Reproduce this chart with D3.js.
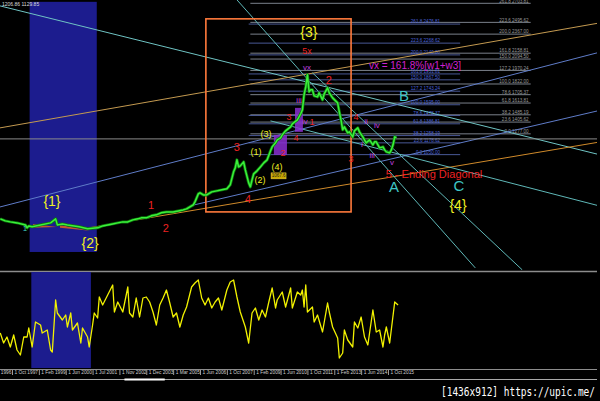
<!DOCTYPE html>
<html><head><meta charset="utf-8">
<script src="https://cdn.jsdelivr.net/npm/d3@7/dist/d3.min.js"></script>
<style>html,body{margin:0;padding:0;background:#000;overflow:hidden}svg{display:block}</style>
</head><body>
<svg id="chart" width="600" height="401"></svg>
<script>
// ---------------- data (monthly bars, bar 0 = 1 Jun 1996) ----------------
const axisLabels = ["1 Jun 1996","1 Oct 1997","1 Feb 1999","1 Jun 2000","1 Jul 2001","1 Nov 2002","1 Dec 2003","1 Mar 2005","1 Jun 2006","1 Oct 2007","1 Feb 2009","1 Jun 2010","1 Oct 2011","1 Feb 2013","1 Jun 2014","1 Oct 2015"];
const barsPerLabel = 16;

const priceSeries = [[9,348],[12,326],[15,315],[19,304],[24,282],[25,250],[26,271],[28,261],[33,282],[39,304],[42,348],[43,282],[46,293],[49,282],[53,271],[56,261],[61,239],[67,250],[70,271],[73,282],[76,293],[79,304],[82,315],[85,315],[88,337],[91,348],[93,359],[96,359],[99,381],[102,392],[105,414],[108,424],[112,424],[115,435],[118,446],[120,457],[122,479],[124,501],[125,534],[127,621],[128,632],[130,610],[132,610],[135,643],[138,654],[141,665],[144,676],[146,720],[148,862],[149,905],[150,993],[151,916],[152,927],[154,971],[155,884],[157,741],[158,698],[159,774],[160,840],[162,873],[164,916],[166,960],[168,993],[170,1091],[171,1135],[173,1179],[174,1211],[176,1233],[177,1266],[179,1310],[182,1354],[183,1386],[186,1430],[188,1496],[189,1539],[190,1703],[191,1791],[192,1922],[193,1736],[194,1758],[195,1758],[196,1692],[198,1681],[199,1725],[201,1649],[202,1714],[204,1780],[205,1725],[207,1670],[210,1616],[211,1517],[212,1430],[213,1321],[214,1354],[216,1288],[217,1299],[219,1244],[220,1310],[222,1343],[223,1299],[225,1244],[226,1211],[227,1179],[229,1211],[231,1157],[232,1190],[233,1190],[235,1124],[237,1135],[238,1102],[239,1080],[241,1069],[242,1102],[243,1157],[244,1244],[245,1233]];

const oscSeries = [[9,35],[11,25],[13,31],[15,21],[17,33],[19,18],[21,13],[23,31],[25,31],[26,40],[28,21],[30,46],[33,43],[34,35],[37,38],[39,18],[40,16],[42,68],[43,55],[46,48],[48,53],[49,41],[51,55],[52,38],[55,45],[57,25],[58,40],[61,31],[62,21],[64,43],[65,55],[67,50],[68,71],[70,63],[73,73],[76,83],[77,56],[79,66],[82,56],[85,81],[86,55],[88,51],[90,70],[92,51],[94,70],[96,71],[98,66],[100,56],[102,43],[104,63],[106,70],[108,78],[110,65],[112,51],[114,55],[116,41],[118,53],[120,61],[123,81],[125,85],[127,88],[129,70],[131,63],[133,70],[135,60],[137,66],[139,70],[141,58],[144,78],[146,86],[148,88],[150,71],[152,56],[155,41],[157,25],[159,55],[161,60],[163,48],[165,58],[167,51],[169,66],[171,80],[173,60],[174,68],[177,76],[179,61],[182,80],[183,60],[186,76],[188,73],[189,78],[190,61],[191,83],[192,56],[195,61],[196,46],[198,53],[201,36],[204,65],[205,56],[207,41],[210,30],[211,10],[213,15],[214,38],[216,28],[219,21],[220,46],[222,40],[224,51],[226,31],[228,23],[231,58],[233,36],[235,38],[237,21],[238,33],[239,41],[241,25],[244,66],[246,63]];

const fibRatios = [0,23.6,38.2,61.8,78.6,100,127.2,150,161.8,200,223.6,261.8];
const fibProjBase = 1050, fibProjSpan = 545, fibProjBars = [157,283];
const fibRetrBase = 1277, fibRetrSpan = 545, fibRetrBars = [158,325];

const shadeMainBars = [26.5,66.5], shadeMainPrices = [-14,2720];
const shadeOscBars = [27.5,63];
const waveBoxBars = [131.5,218], waveBoxPrices = [424,2534];
const highlightBlocks = [{bars:[172,179.8],prices:[1047,1266]},{bars:[184.6,189.3],prices:[1299,1561]}];
const wedges = [[[28.5,293],[42.8,260],[28.5,250]],[[44.6,282],[62.5,217],[44.6,250]]];

const trendLines = [
  {id:"teal",   pts:[[0,2716],[370,1031]]},
  {id:"tan",    pts:[[0,1314],[370,2502]]},
  {id:"orange", pts:[[62,250],[370,1200]]},
  {id:"blueHi", pts:[[0,436],[370,2188]]},
  {id:"blueLo", pts:[[122,490],[370,1550]]},
  {id:"grid",   pts:[[0,1222],[370,1222]]},
  {id:"steepA", pts:[[150,2742],[292,-188]]},
  {id:"steepB", pts:[[195,1944],[320,-210]]},
  {id:"tealMid",pts:[[170,1419],[370,470]]}
];

const waveLabels = [
  {t:"{1}",b:39.8,p:545,k:"cycle"},{t:"{2}",b:62.5,p:86,k:"cycle"},{t:"{3}",b:192.9,p:2392,k:"cycle"},{t:"{4}",b:281.7,p:501,k:"cycle"},
  {t:"1",b:98.8,p:501,k:"red"},{t:"2",b:107.7,p:250,k:"red"},{t:"3",b:150,p:1135,k:"red"},{t:"4",b:156.6,p:566,k:"red"},
  {t:"2",b:177.4,p:1069,k:"redS"},{t:"3",b:181,p:1463,k:"redS"},{t:"4",b:185.2,p:1233,k:"redS"},{t:"1",b:194.7,p:1408,k:"redS"},
  {t:"5x",b:191.7,p:2184,k:"redS"},{t:"2",b:204.8,p:1867,k:"red"},{t:"4",b:220.9,p:1463,k:"redS"},{t:"3",b:217.9,p:1004,k:"redS"},
  {t:"(1)",b:161.4,p:1080,k:"primary"},{t:"(2)",b:163.7,p:774,k:"primary"},{t:"(3)",b:167.3,p:1277,k:"primary"},{t:"(4)",b:173.9,p:916,k:"primary"},
  {t:"iv",b:190.5,p:1408,k:"minor"},{t:"vx",b:191.7,p:1998,k:"minor"},{t:"iii",b:187,p:1638,k:"minor"},
  {t:"ii",b:226.9,p:1408,k:"minor"},{t:"iv",b:233.4,p:1364,k:"minor"},{t:"i",b:224.5,p:1157,k:"minor"},{t:"iii",b:230.5,p:1036,k:"minor"},{t:"v",b:242.4,p:960,k:"minor"},
  {t:"A",b:243.6,p:698,k:"abc"},{t:"B",b:249.5,p:1692,k:"abc"},{t:"C",b:282.3,p:710,k:"abc"},
  {t:"1",b:23.7,p:239,k:"tiny"}
];
const notes = [
  {t:"vx = 161.8%[w1+w3]",b:256.1,p:2020,k:"noteMag"},
  {t:"5 - Ending Diagonal",b:267.4,p:840,k:"noteRed"}
];
const priceTag = {t:"1067.6",b:174.8,p:818};
const headerText = "1206.86 1129.85";
const watermark = "[1436x912] https://upic.me/";

// ---------------- styles ----------------
const lineStyle = {
  teal:{c:"#6fc4c4",w:1}, tan:{c:"#c49a50",w:1}, orange:{c:"#d08a2a",w:1},
  blueHi:{c:"#5f7cc8",w:1}, blueLo:{c:"#5f7cc8",w:1}, grid:{c:"#8a8a8a",w:1},
  steepA:{c:"#5fb8b8",w:1}, steepB:{c:"#5fb8b8",w:1}, tealMid:{c:"#5fb8b8",w:1}
};
const labelStyle = {
  cycle:{c:"#f0f020",s:14}, primary:{c:"#f0f020",s:9}, red:{c:"#ee2222",s:11}, redS:{c:"#ee2222",s:9},
  minor:{c:"#c040e0",s:8}, abc:{c:"#3fc6c6",s:15}, tiny:{c:"#40d0c0",s:8},
  noteMag:{c:"#d020d0",s:10}, noteRed:{c:"#ee2222",s:11}
};

// ---------------- scales ----------------
const W = 600, H = 401;
const x = d3.scaleLinear().domain([16,240]).range([12,388]);
const y = d3.scaleLinear().domain([0,2740]).range([250.7,0]);
const yo = d3.scaleLinear().domain([0,96]).range([368,272]);

const svg = d3.select("#chart");
svg.append("rect").attr("width",W).attr("height",H).attr("fill","#000");
const defs = svg.append("defs");
defs.append("clipPath").attr("id","clipMain").append("rect").attr("x",0).attr("y",0).attr("width",597).attr("height",270);
defs.append("clipPath").attr("id","clipOsc").append("rect").attr("x",0).attr("y",272).attr("width",597).attr("height",97);

const font = "'Liberation Sans', Arial, sans-serif";

// ---------------- main panel ----------------
const gm = svg.append("g").attr("clip-path","url(#clipMain)");
gm.append("rect")
  .attr("x",x(shadeMainBars[0])).attr("width",x(shadeMainBars[1])-x(shadeMainBars[0]))
  .attr("y",y(shadeMainPrices[1])).attr("height",y(shadeMainPrices[0])-y(shadeMainPrices[1]))
  .attr("fill","#1c1c8e");

// fib levels
function fibSet(base, span, bars, color, labelColor, labelEndOffset){
  const g = gm.append("g");
  fibRatios.forEach(r=>{
    const p = base + span*r/100;
    g.append("line").attr("x1",x(bars[0])).attr("x2",x(bars[1])).attr("y1",y(p)).attr("y2",y(p))
      .attr("stroke",color).attr("stroke-width",1).attr("opacity",0.85);
    g.append("text").attr("x",x(bars[1])-labelEndOffset).attr("y",y(p)-0.8)
      .attr("text-anchor","end").attr("font-family",font).attr("font-size",4.6).attr("fill",labelColor)
      .text(r.toFixed(1)+"  "+p.toFixed(2));
  });
}
fibSet(fibRetrBase, fibRetrSpan, fibRetrBars, "#9098a4", "#9a9a9a", 2);
fibSet(fibProjBase, fibProjSpan, fibProjBars, "#5668b0", "#4a62d8", 20);

// trend lines
const lineGen = d3.line().x(d=>x(d[0])).y(d=>y(d[1]));
gm.selectAll("path.trend").data(trendLines).join("path").attr("class","trend")
  .attr("d",d=>lineGen(d.pts)).attr("fill","none")
  .attr("stroke",d=>lineStyle[d.id].c).attr("stroke-width",d=>lineStyle[d.id].w);

// wedges in shaded area
gm.selectAll("path.wedge").data(wedges).join("path").attr("class","wedge")
  .attr("d",d=>lineGen(d)+"Z").attr("fill","#e0601c").attr("opacity",0.85);

// orange wave box
gm.append("rect")
  .attr("x",x(waveBoxBars[0])).attr("width",x(waveBoxBars[1])-x(waveBoxBars[0]))
  .attr("y",y(waveBoxPrices[1])).attr("height",y(waveBoxPrices[0])-y(waveBoxPrices[1]))
  .attr("fill","none").attr("stroke","#ff7a3c").attr("stroke-width",1.6);

// purple highlight blocks
gm.selectAll("rect.hl").data(highlightBlocks).join("rect").attr("class","hl")
  .attr("x",d=>x(d.bars[0])).attr("width",d=>x(d.bars[1])-x(d.bars[0]))
  .attr("y",d=>y(d.prices[1])).attr("height",d=>y(d.prices[0])-y(d.prices[1]))
  .attr("fill","#8a2fd0").attr("opacity",0.85);

// price line
gm.append("path").datum(priceSeries).attr("d",lineGen).attr("fill","none")
  .attr("stroke","#0b7a0b").attr("stroke-width",3).attr("stroke-linejoin","round");
gm.append("path").datum(priceSeries).attr("d",lineGen).attr("fill","none")
  .attr("stroke","#3cf03c").attr("stroke-width",1.5).attr("stroke-linejoin","round");

// price tag
gm.append("rect").attr("x",x(priceTag.b)-7.5).attr("y",y(priceTag.p)-3).attr("width",15).attr("height",6)
  .attr("fill","#c8a800").attr("stroke","#f0d040").attr("stroke-width",0.5);
gm.append("text").attr("x",x(priceTag.b)).attr("y",y(priceTag.p)+1.6).attr("text-anchor","middle")
  .attr("font-family",font).attr("font-size",4.5).attr("fill","#222").text(priceTag.t);

// labels
gm.selectAll("text.wl").data(waveLabels.concat(notes)).join("text").attr("class","wl")
  .attr("x",d=>x(d.b)).attr("y",d=>y(d.p)).attr("text-anchor","middle").attr("dominant-baseline","central")
  .attr("font-family",font).attr("font-size",d=>labelStyle[d.k].s).attr("fill",d=>labelStyle[d.k].c)
  .text(d=>d.t);

svg.append("text").attr("x",2).attr("y",6).attr("font-family",font).attr("font-size",5).attr("fill","#ddd").text(headerText);

// ---------------- oscillator panel ----------------
svg.append("line").attr("x1",0).attr("x2",597).attr("y1",271.5).attr("y2",271.5).attr("stroke","#8c8c8c").attr("stroke-width",1.5);
const go = svg.append("g").attr("clip-path","url(#clipOsc)");
go.append("rect").attr("x",x(shadeOscBars[0])).attr("width",x(shadeOscBars[1])-x(shadeOscBars[0]))
  .attr("y",yo(96)).attr("height",yo(0)-yo(96)).attr("fill","#1c1c8e");
const oscGen = d3.line().x(d=>x(d[0])).y(d=>yo(d[1]));
go.append("path").datum(oscSeries).attr("d",oscGen).attr("fill","none")
  .attr("stroke","#f2f200").attr("stroke-width",1.3).attr("stroke-linejoin","round");
svg.append("line").attr("x1",0).attr("x2",597).attr("y1",369.5).attr("y2",369.5).attr("stroke","#8c8c8c").attr("stroke-width",1.2);

// axis
const axis = d3.axisBottom(x)
  .tickValues(axisLabels.map((d,i)=>i*barsPerLabel))
  .tickFormat((d,i)=>axisLabels[i]).tickSize(5).tickPadding(0);
const ga = svg.append("g").attr("transform","translate(0,370)").call(axis);
ga.select(".domain").remove();
ga.selectAll(".tick line").attr("stroke","#9a9a9a");
ga.selectAll(".tick text").attr("text-anchor","start").attr("x",2).attr("y",1)
  .attr("font-family",font).attr("font-size",4.8).attr("fill","#cfcfcf");

// scrollbar line
svg.append("line").attr("x1",0).attr("x2",597).attr("y1",379.5).attr("y2",379.5).attr("stroke","#a8a8a8").attr("stroke-width",1.2);
svg.append("line").attr("x1",x(83)).attr("x2",x(107)).attr("y1",379.5).attr("y2",379.5).attr("stroke","#ffffff").attr("stroke-width",2);

// watermark
svg.append("text").attr("x",441).attr("y",396).attr("font-family","'DejaVu Sans Mono', monospace")
  .attr("font-size",12).attr("fill","#ffffff").attr("textLength",154).attr("lengthAdjust","spacingAndGlyphs")
  .text(watermark);
</script>
</body></html>
